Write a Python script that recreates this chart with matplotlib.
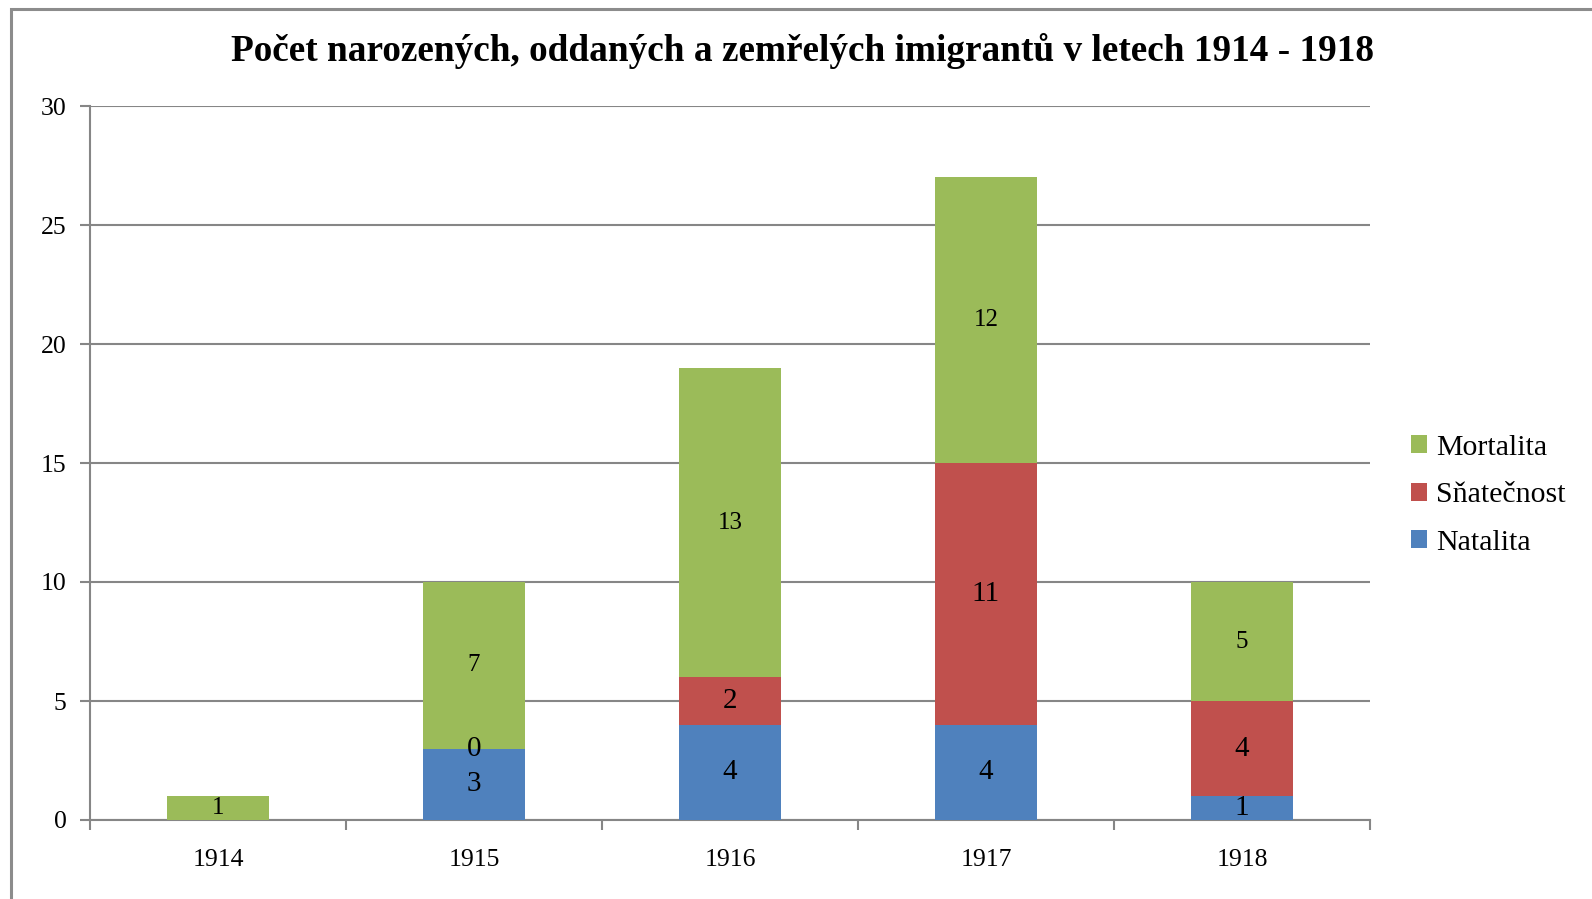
import matplotlib
matplotlib.use("Agg")
import matplotlib.pyplot as plt
import matplotlib.patches as mpatches
import numpy as np

# data
years = ['1914', '1915', '1916', '1917', '1918']
natalita = [None, 3, 4, 4, 1]
snatecnost = [None, 0, 2, 11, 4]
mortalita = [1, 7, 13, 12, 5]

series = [('Natalita', natalita, '#4F81BD', 21),
          ('Sňatečnost', snatecnost, '#C0504D', 21),
          ('Mortalita', mortalita, '#9BBB59', 18)]

plt.rcParams['font.family'] = ['Liberation Serif', 'DejaVu Serif']

fig = plt.figure(figsize=(15.92, 8.99), dpi=100)
ax = fig.add_axes([90/1592, 1-820/899, 1280/1592, 714/899])

# outer chart frame (cut off at right and bottom)
fig.patches.append(mpatches.Rectangle((11/1592, -0.1), 1.2, 1-9/899+0.1,
                                      transform=fig.transFigure, fill=False,
                                      edgecolor='#8c8c8c', linewidth=2.2))

x = np.arange(len(years))
bottom = np.zeros(len(years))
handles = []
for name, vals, col, fs in series:
    v = np.array([0 if a is None else a for a in vals], dtype=float)
    bars = ax.bar(x, v, width=0.4, bottom=bottom, color=col, label=name, zorder=3)
    for i, a in enumerate(vals):
        if a is None:
            continue
        ax.text(x[i], bottom[i] + a/2, str(a), ha='center', va='center',
                fontsize=fs, zorder=4)
    bottom = bottom + v
    handles.append(bars)

ax.set_xlim(-0.5, len(years)-0.5)
ax.set_ylim(0, 30)
ax.set_yticks(range(0, 31, 5))
ax.yaxis.grid(True, color='#868686', linewidth=1.5, zorder=0)
ax.set_axisbelow(True)

ax.set_xticks(x)
ax.set_xticklabels(years, fontsize=18.5)
ax.set_xticks(np.arange(-0.5, len(years)), minor=True)
ax.tick_params(axis='x', which='major', length=0, pad=21)
ax.tick_params(axis='x', which='minor', length=7, width=1.5, color='#868686')
ax.tick_params(axis='y', length=7, width=1.5, color='#868686', labelsize=18.5, pad=10)

for s in ['top', 'right']:
    ax.spines[s].set_visible(False)
for s in ['left', 'bottom']:
    ax.spines[s].set_color('#868686')
    ax.spines[s].set_linewidth(1.5)

fig.text(0.504, 1-51/899, 'Počet narozených, oddaných a zemřelých imigrantů v letech 1914 - 1918',
         ha='center', va='center', fontsize=26.8, fontweight='bold')

ax.legend(handles[::-1], [s[0] for s in series][::-1], loc='center left',
          bbox_to_anchor=(1.032, 0.455), frameon=False, fontsize=21.5,
          handlelength=0.55, handleheight=0.55, handletextpad=0.3, labelspacing=0.72,
          borderpad=0, borderaxespad=0)

fig.savefig('out.png', dpi=100)
